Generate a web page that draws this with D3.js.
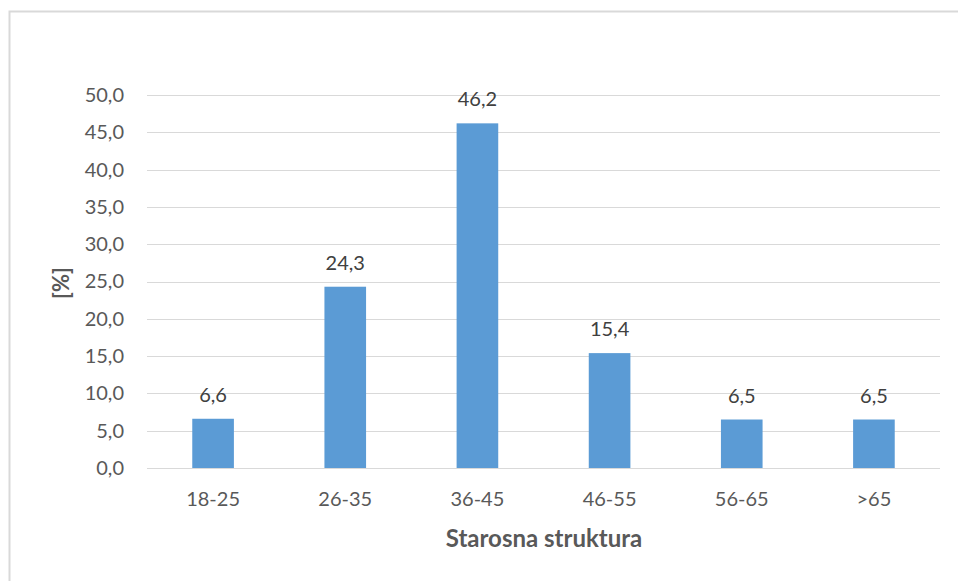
<!DOCTYPE html>
<html>
<head>
<meta charset="utf-8">
<script src="https://cdn.jsdelivr.net/npm/d3@7"></script>
<style>
  html, body { margin: 0; padding: 0; background: #fff; }
  svg text { font-family: Lato, "Open Sans", sans-serif; }
</style>
</head>
<body>
<svg id="chart" width="958" height="581"></svg>
<script>
// Age groups and their share in percent
const categories = ["18-25", "26-35", "36-45", "46-55", "56-65", ">65"];
const values = [6.6, 24.3, 46.2, 15.4, 6.5, 6.5];
const yTicks = [0, 5, 10, 15, 20, 25, 30, 35, 40, 45, 50];
const yLabel = "[%]";
const xTitle = "Starosna struktura";

const fmt = v => v.toFixed(1).replace(".", ",");

const svg = d3.select("#chart");

// outer chart frame
svg.append("rect")
  .attr("x", 9.5).attr("y", 11.5)
  .attr("width", 980).attr("height", 600)
  .attr("fill", "#fff")
  .attr("stroke", "#d9d9d9").attr("stroke-width", 2);

const plot = { left: 147, right: 940, top: 95, bottom: 468 };

const x = d3.scaleBand()
  .domain(categories)
  .range([plot.left, plot.right])
  .paddingInner(0.685).paddingOuter(0.3425);

const y = d3.scaleLinear()
  .domain([0, 50])
  .range([plot.bottom, plot.top]);

// horizontal gridlines
svg.append("g")
  .selectAll("line")
  .data(yTicks)
  .join("line")
  .attr("x1", plot.left).attr("x2", plot.right)
  .attr("y1", d => Math.round(y(d)) + 0.5)
  .attr("y2", d => Math.round(y(d)) + 0.5)
  .attr("stroke", "#d9d9d9").attr("stroke-width", 1);

// y axis labels
const yAxis = d3.axisLeft(y).tickValues(yTicks).tickFormat(fmt).tickSize(0).tickPadding(0);
svg.append("g")
  .attr("transform", `translate(124,0)`)
  .call(yAxis)
  .call(g => g.select(".domain").remove())
  .call(g => g.selectAll("text")
    .attr("fill", "#595959")
    .style("font-size", "20px")
    .style("font-family", "Lato, 'Open Sans', sans-serif"));

// bars
svg.append("g")
  .selectAll("rect")
  .data(values)
  .join("rect")
  .attr("x", (d, i) => x(categories[i]))
  .attr("width", x.bandwidth())
  .attr("y", d => y(d))
  .attr("height", d => y(0) - y(d))
  .attr("fill", "#5b9bd5");

// value labels above bars
svg.append("g")
  .selectAll("text")
  .data(values)
  .join("text")
  .attr("x", (d, i) => x(categories[i]) + x.bandwidth() / 2)
  .attr("y", d => y(d) - 17)
  .attr("text-anchor", "middle")
  .attr("fill", "#404040")
  .style("font-size", "20px")
  .text(fmt);

// x axis category labels
const xAxis = d3.axisBottom(x).tickSize(0).tickPadding(0);
svg.append("g")
  .attr("transform", `translate(0,${plot.bottom + 24})`)
  .call(xAxis)
  .call(g => g.select(".domain").remove())
  .call(g => g.selectAll("text")
    .attr("fill", "#595959")
    .style("font-size", "20px")
    .style("font-family", "Lato, 'Open Sans', sans-serif"));

// axis titles
svg.append("text")
  .attr("x", 544)
  .attr("y", 547)
  .attr("text-anchor", "middle")
  .attr("fill", "#595959")
  .style("font-size", "24px")
  .style("font-weight", "bold")
  .text(xTitle);

svg.append("text")
  .attr("transform", `translate(69,283) rotate(-90)`)
  .attr("text-anchor", "middle")
  .attr("fill", "#595959")
  .style("font-size", "22px")
  .style("font-weight", "bold")
  .text(yLabel);
</script>
</body>
</html>
